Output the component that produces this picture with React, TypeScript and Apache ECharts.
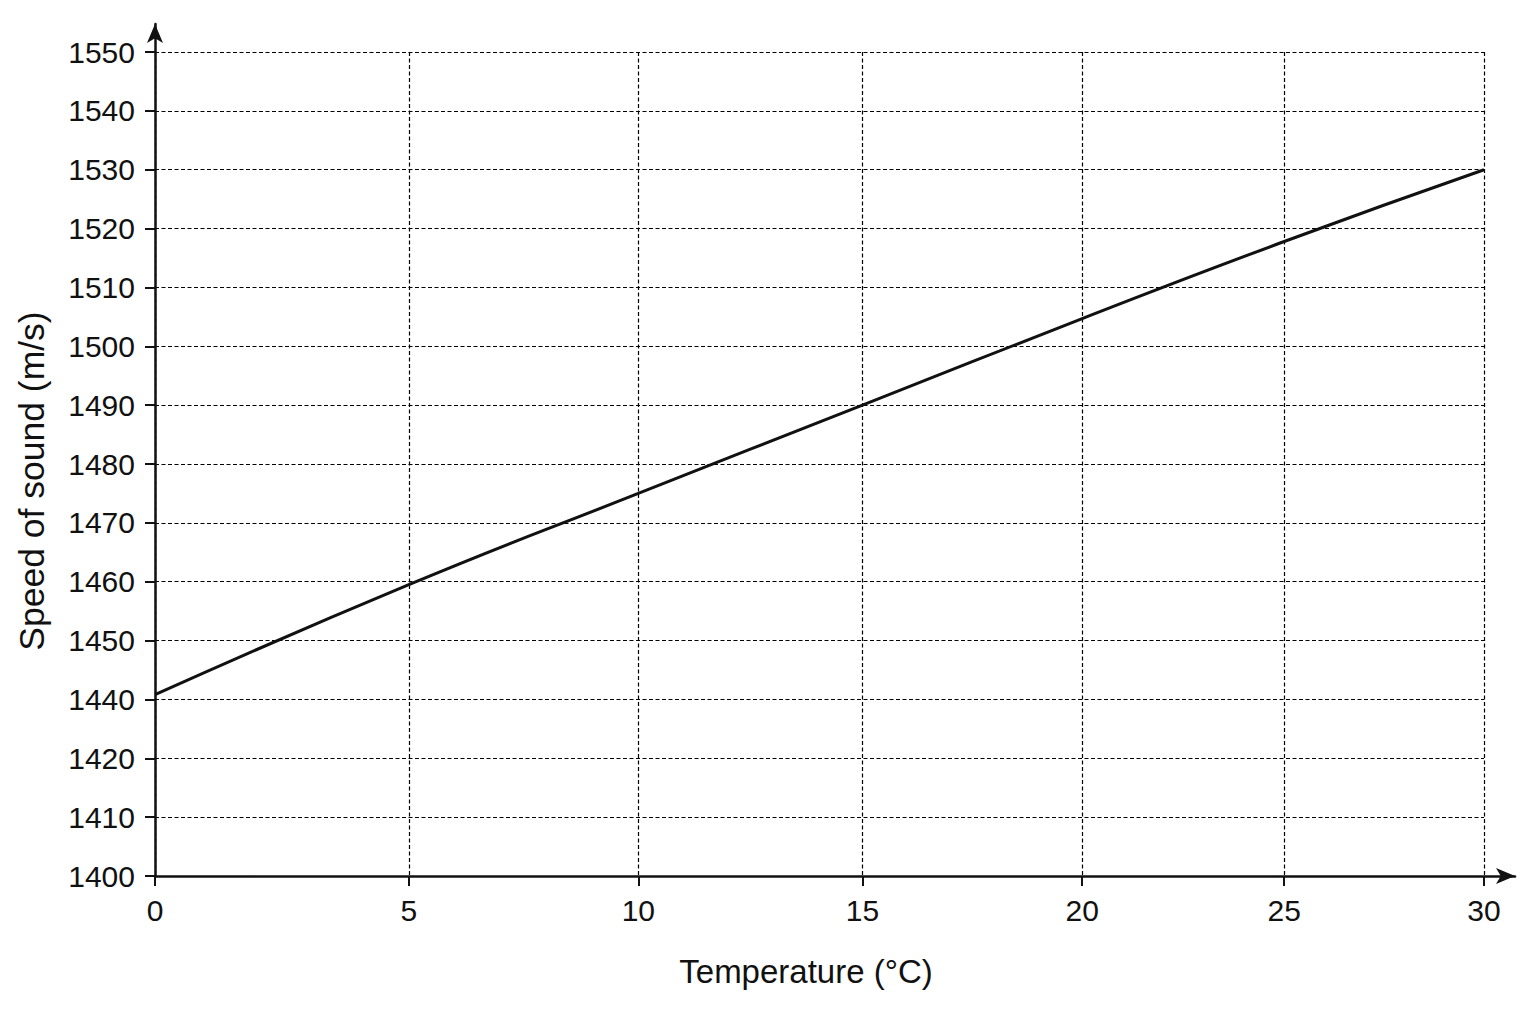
import { useEffect, useRef } from "react";
import * as echarts from "echarts";

// printed temperature labels and where each one sits along the 0–30 axis
// (the source grid is not evenly spaced, so the positions are read off it)
const tempLabels = ["0", "5", "10", "15", "20", "25", "30"];
const tempTickAt = [0, 5.73, 10.91, 15.97, 20.93, 25.49, 30];

// speed of sound read at each temperature tick (m/s)
const speedAtTick = [1440.8, 1459.5, 1475, 1490, 1504.7, 1517.8, 1530];

// y tick labels as printed, bottom to top (1430 is missing in the source)
const speedLabels = [
  "1400", "1410", "1420", "1440", "1450", "1460", "1470", "1480",
  "1490", "1500", "1510", "1520", "1530", "1540", "1550",
];

const FONT = '"Liberation Sans", Arial, Helvetica, sans-serif';
const INK = "#111";

export default function App() {
  const ref = useRef<HTMLDivElement>(null);

  useEffect(() => {
    if (!ref.current) return;
    const chart = echarts.init(ref.current, undefined, { renderer: "svg" });

    const hidden = {
      axisTick: { show: false },
      axisLabel: { show: false },
      splitLine: { show: false },
    };
    const arrowLine = {
      show: true,
      symbol: ["none", "arrow"],
      symbolSize: [12, 19],
      lineStyle: { color: INK, width: 2.5 },
    };
    const dashed = { show: true, lineStyle: { color: "#000", width: 1.2, type: [4, 2.5] } };

    chart.setOption({
      animation: false,
      backgroundColor: "#fff",
      textStyle: { fontFamily: FONT },
      grid: [
        { left: 155, right: 52, top: 52, bottom: 148 },
        // wider twin grid that only carries the arrowed axis lines
        { left: 155, right: 21, top: 24, bottom: 148 },
      ],
      xAxis: [
        {
          type: "value",
          gridIndex: 0,
          min: 0,
          max: 30,
          name: "Temperature (°C)",
          nameLocation: "middle",
          nameGap: 79,
          nameTextStyle: { color: INK, fontSize: 33, fontFamily: FONT, padding: [0, 27, 0, 0] },
          axisLine: { show: false },
          axisTick: {
            show: true,
            length: 10,
            customValues: tempTickAt,
            lineStyle: { color: INK, width: 2 },
          },
          axisLabel: {
            customValues: tempTickAt,
            margin: 19,
            color: INK,
            fontSize: 30,
            fontFamily: FONT,
            formatter: (v: number) => {
              let best = 0;
              tempTickAt.forEach((t, i) => {
                if (Math.abs(t - v) < Math.abs(tempTickAt[best] - v)) best = i;
              });
              return tempLabels[best];
            },
          },
          splitLine: dashed,
        },
        { type: "value", gridIndex: 1, min: 0, max: 1, axisLine: arrowLine, ...hidden },
      ],
      yAxis: [
        {
          type: "value",
          gridIndex: 0,
          min: 1410,
          max: 1550,
          interval: 10,
          name: "Speed of sound (m/s)",
          nameLocation: "middle",
          nameGap: 105,
          nameTextStyle: { color: INK, fontSize: 35.5, fontFamily: FONT, padding: [0, 34, 0, 0] },
          axisLine: { show: false },
          axisTick: { show: true, length: 10, lineStyle: { color: INK, width: 2 } },
          axisLabel: {
            margin: 20,
            color: INK,
            fontSize: 30,
            fontFamily: FONT,
            formatter: (_v: number, i: number) => speedLabels[i] ?? "",
          },
          splitLine: dashed,
        },
        { type: "value", gridIndex: 1, min: 0, max: 1, axisLine: arrowLine, ...hidden },
      ],
      series: [
        {
          type: "line",
          xAxisIndex: 0,
          yAxisIndex: 0,
          showSymbol: false,
          smooth: true,
          lineStyle: { color: INK, width: 3 },
          data: tempTickAt.map((t, i) => [t, speedAtTick[i]]),
        },
      ],
    });

    const onResize = () => chart.resize();
    window.addEventListener("resize", onResize);
    return () => {
      window.removeEventListener("resize", onResize);
      chart.dispose();
    };
  }, []);

  return (
    <div
      ref={ref}
      style={{ position: "fixed", left: 0, top: 0, width: "100vw", height: "100vh", background: "#fff" }}
    />
  );
}
